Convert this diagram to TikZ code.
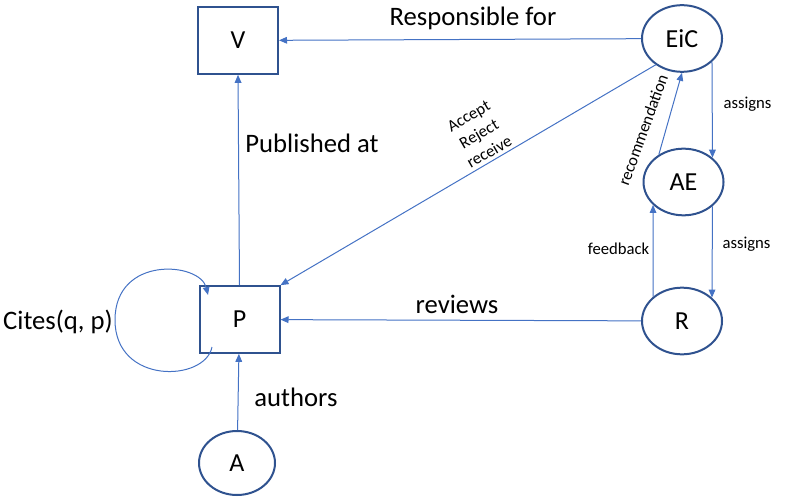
\documentclass[tikz,border=0pt]{standalone}
\usepackage{fontspec}
\setmainfont{Carlito}
\usetikzlibrary{shapes, arrows.meta, calc, positioning}
\definecolor{linkblue}{HTML}{4472C4}
\definecolor{boxblue}{HTML}{2F528F}

\begin{document}
\begin{tikzpicture}[x=0.75pt, y=-0.75pt,
        >={Triangle[length=6pt, width=5pt]},
        entity/.style={draw=boxblue, line width=1.5pt, minimum width=60pt, minimum height=50pt, font=\fontsize{19.5}{22}\selectfont},
        actor/.style={draw=boxblue, line width=1.5pt, ellipse, minimum width=60pt, minimum height=50pt, font=\fontsize{19.5}{22}\selectfont},
        link/.style={->, draw=linkblue, line width=0.75pt},
        lbl/.style={font=\fontsize{20}{24}\selectfont},
        smalllbl/.style={font=\fontsize{12.5}{15.5}\selectfont}]
        \useasboundingbox (0,0) rectangle (791,502);

        \node [entity] (V) at (238,40.5) {V};
        \node [entity] (P) at (239.5,319.5) {P};
        \node [actor] (EiC) at (682,38.5) {EiC};
        \node [actor] (AE) at (683.5,182) {AE};
        \node [actor] (R) at (682,321) {R};
        \node [actor, minimum width=57pt, minimum height=48pt] (A) at (237,463) {A};

        \draw [link] (EiC) -- (V);
        \node [lbl] (respL) at (473,18) {Responsible for};
        \draw [link] (P.north) -- (V.south);
        \node [lbl] (pubL) at (312,143) {Published at};
        \draw [link] (EiC.225) -- (P.north east);
        \node [smalllbl, align=center, rotate=30] (decL) at (479,134) {Accept\\Reject\\receive};
        \draw [link] (R) -- (P);
        \node [lbl] (revL) at (457,304) {reviews};
        \draw [link] (A) -- (P);
        \node [lbl] (authL) at (296,397) {authors};

        \coordinate (loopS) at (212,347);
        \coordinate (loopE) at (208,295);
        \draw [link] (loopS) .. controls (205,382) and (115,385) .. (115,320) .. controls (115,255) and (200,262) .. (loopE);
        \node [lbl] (citeL) at (58,322) {Cites(q, p)};

        \draw [link] (EiC.-38) -- (AE.40);
        \node [smalllbl] (asg1L) at (747.5,104) {assigns};
        \draw [link] (AE.-40) -- (R.38);
        \node [smalllbl] (asg2L) at (746.5,244) {assigns};
        \draw [link] (AE.132) -- (EiC.south);
        \node [smalllbl, rotate=70] (recL) at (643,130) {recommendation};
        \draw [link] (R.140) -- (AE.217);
        \node [smalllbl] (fbL) at (618.5,249) {feedback};
\end{tikzpicture}
\end{document}
